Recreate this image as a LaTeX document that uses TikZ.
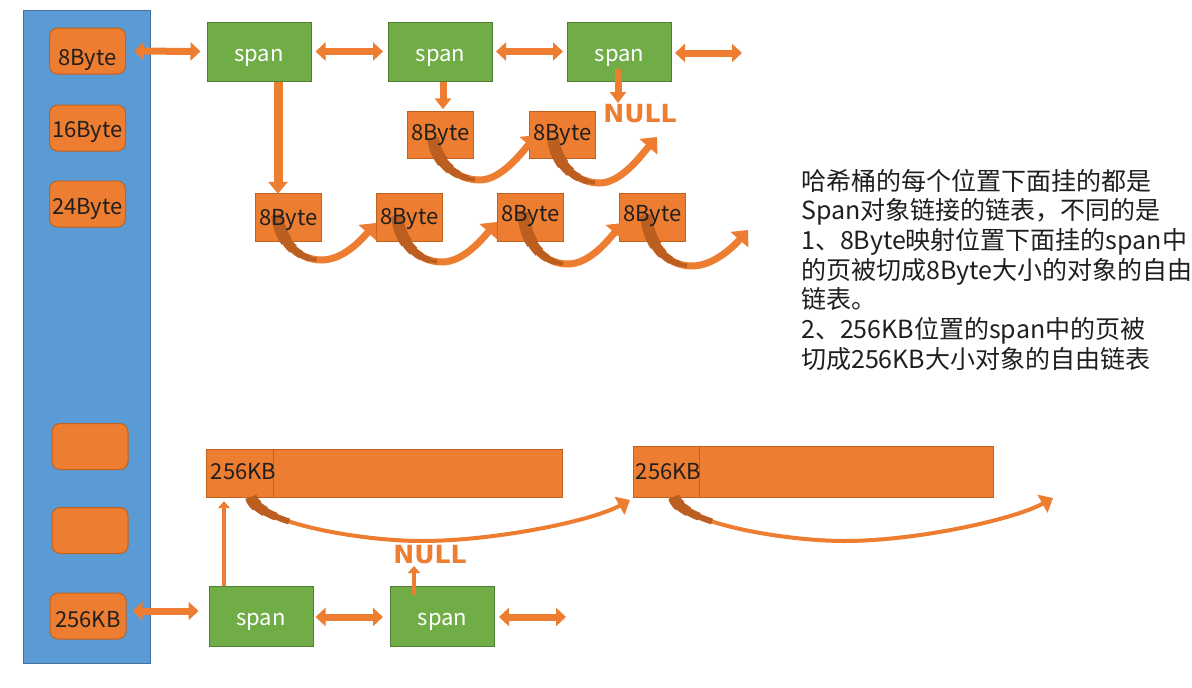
\documentclass[tikz,border=0pt]{standalone}
\usepackage{fontspec}
\newfontfamily\cjk{Noto Sans CJK SC}
\newfontfamily\nullfam{DejaVu Sans}
\usetikzlibrary{arrows.meta,calc}
\definecolor{OR}{HTML}{ED7D31}
\definecolor{ORd}{HTML}{C0621F}
\definecolor{ORk}{HTML}{BC5E1F}
\definecolor{GR}{HTML}{70AD47}
\definecolor{GRd}{HTML}{507E32}
\definecolor{BL}{HTML}{5B9BD5}
\definecolor{BLd}{HTML}{41719C}
\definecolor{TX}{HTML}{1F1F1F}
\pgfdeclarelayer{bg}\pgfdeclarelayer{mid}\pgfsetlayers{bg,mid,main}
\newcommand\lblfont{\cjk\fontsize{22}{26}\selectfont}
\newcommand\notefont{\cjk\fontsize{25}{30}\selectfont}
\newcommand\nullfnt{\nullfam\bfseries\fontsize{25}{28}\selectfont}
% dark, tapering first part of a curved arrow (uses p0..p3)
\newcommand\darkpart[2]{%
 \coordinate (q0) at ($(p0)!#1!(p1)$);
 \coordinate (q1) at ($(p1)!#1!(p2)$);
 \coordinate (q2) at ($(p2)!#1!(p3)$);
 \coordinate (r0) at ($(q0)!#1!(q1)$);
 \coordinate (r1) at ($(q1)!#1!(q2)$);
 \coordinate (s0) at ($(r0)!#1!(r1)$);
 \draw[draw=ORk,line width=#2,line cap=butt] (p0) .. controls (q0) and (r0) .. (s0);
}
% small curved arrow: sx sy tx ty yb
\newcommand\smallbend[5]{%
 \pgfmathsetmacro\bx{#1+0.45*(#3-#1)}%
 \coordinate (p0) at (#1,#2);
 \coordinate (p1) at ({#1+4},{#5-14});
 \coordinate (p2) at ({\bx-20},#5);
 \coordinate (p3) at (\bx,#5);
 \coordinate (p4) at ({\bx+22},#5);
 \coordinate (p5) at ({#3-14},{#4+16});
 \coordinate (p6) at (#3,#4);
 \draw[bandS] (p0) .. controls (p1) and (p2) .. (p3) .. controls (p4) and (p5) .. (p6);
 \darkpart{0.35}{12}\darkpart{0.5}{10}\darkpart{0.65}{8}\darkpart{0.8}{6}\darkpart{0.92}{4}
}
% long curved arrow: sx sy tx ty yb
\newcommand\longbend[5]{%
 \pgfmathsetmacro\bx{#1+0.45*(#3-#1)}%
 \coordinate (p0) at (#1,#2);
 \coordinate (p1) at ({#1+6},{#5-18});
 \coordinate (p2) at ({\bx-60},#5);
 \coordinate (p3) at (\bx,#5);
 \coordinate (p4) at ({\bx+70},#5);
 \coordinate (p5) at ({#3-40},{#4+22});
 \coordinate (p6) at (#3,#4);
 \draw[bandL] (p0) .. controls (p1) and (p2) .. (p3) .. controls (p4) and (p5) .. (p6);
 \darkpart{0.12}{12}\darkpart{0.2}{10}\darkpart{0.28}{8}\darkpart{0.36}{6}
}
\begin{document}
\begin{tikzpicture}[x=1pt,y=-1pt,
  tb/.style={text height=#1,text depth=0pt},
  hashbar/.style={fill=BL,draw=BLd,line width=1,minimum width=127,minimum height=653,inner sep=0},
  rbox/.style={rounded corners=8,fill=OR,draw=ORd,line width=1,minimum width=76,minimum height=46,inner sep=0,font=\lblfont,text=TX},
  spanbox/.style={fill=GR,draw=GRd,line width=1,minimum width=104,minimum height=59,inner sep=0,font=\lblfont,text=white,tb=20pt},
  obj/.style={minimum width=65,minimum height=47,inner sep=0,font=\lblfont,text=TX},
  cellfill/.style={fill=OR,draw=ORd,line width=0.8},
  txt/.style={inner sep=0,font=\lblfont,text=TX,anchor=base},
  nulltxt/.style={inner sep=0,font=\nullfnt,text=OR},
  note/.style={inner sep=0,font=\notefont,text=TX,anchor=base west},
  dbl/.style={draw=OR,line width=7,{Triangle[length=10pt,width=18pt]}-{Triangle[length=10pt,width=18pt]}},
  downbig/.style={draw=OR,line width=9,-{Triangle[length=12pt,width=19pt]}},
  downsm/.style={draw=OR,line width=7,-{Triangle[length=11pt,width=16pt]}},
  upthin/.style={draw=OR,line width=4,-{Triangle[length=7pt,width=12pt]}},
  bandS/.style={draw=OR,line width=7,line cap=butt,-{Triangle[length=13pt,width=23pt]}},
  bandL/.style={draw=OR,line width=4,line cap=butt,-{Triangle[length=12pt,width=20pt]}}]
\useasboundingbox (0,0) rectangle (1192,688);

% hash table column
\node[hashbar] (hash) at (86.5,336.5) {};
\node[rbox,tb=28pt] (b8) at (87.5,51) {8Byte};
\node[rbox,tb=19.5pt] (b16) at (87.5,128) {16Byte};
\node[rbox,tb=20pt] (b24) at (87.5,204) {24Byte};
\node[rbox] (bl1) at (90,446.5) {};
\node[rbox] (bl2) at (90,530.5) {};
\node[rbox,tb=23pt] (b256) at (88,616) {256KB};

% top spans
\node[spanbox] (span1) at (259,51.5) {span};
\node[spanbox] (span2) at (440.5,51.5) {span};
\node[spanbox] (span3) at (619.5,51.5) {span};
\coordinate (c1) at (742,53);

% object boxes
\node[obj,tb=10pt] (o11) at (440.5,135) {8Byte};
\node[obj,tb=10pt] (o12) at (562.5,135) {8Byte};
\node[obj,tb=15pt] (o21) at (288.5,217.5) {8Byte};
\node[obj,tb=13pt] (o22) at (409.5,217.5) {8Byte};
\node[obj,tb=7pt] (o23) at (530.5,217.5) {8Byte};
\node[obj,tb=7pt] (o24) at (652.5,217.5) {8Byte};

% bottom spans and bars
\node[spanbox,minimum height=60,tb=18pt] (sb1) at (261,616) {span};
\node[spanbox,minimum height=60,tb=18pt] (sb2) at (442.5,616) {span};
\coordinate (c2) at (566,617);
\node[minimum width=355,minimum height=47,inner sep=0] (bar1) at (384.5,473.5) {};
\node[minimum width=359,minimum height=50,inner sep=0] (bar2) at (813.5,472) {};
\node[txt] (kb1) at (243.5,479) {256KB};
\node[txt] (kb2) at (668.5,479) {256KB};

\node[nulltxt] (n1) at (640,114) {NULL};
\node[nulltxt] (n2) at (430,554.5) {NULL};
\coordinate (n1tip) at (618,103);
\coordinate (n2tip) at (414,566);

\begin{pgfonlayer}{bg}
\foreach \n in {o11,o12,o21,o22,o23,o24,bar1,bar2}
  \draw[cellfill] (\n.south west) rectangle (\n.north east);
\draw[ORd,line width=0.8] (273,450) -- (273,497);
\draw[ORd,line width=0.8] (699,447) -- (699,497);
\end{pgfonlayer}

\begin{pgfonlayer}{mid}
\smallbend{433}{138}{537}{135}{180}
\smallbend{553}{138}{657}{137}{183}
\smallbend{277}{215}{376}{223}{260}
\smallbend{397}{216}{497}{222}{262}
\smallbend{523}{213}{623}{223}{264}
\smallbend{646}{215}{748}{230}{266}
\longbend{251}{497}{630}{500}{541}
\longbend{674}{497}{1053}{498}{541}
\end{pgfonlayer}

% horizontal links
\draw[dbl,shorten <=8pt,shorten >=6pt] (b8.east) -- (span1.west);
\draw[dbl,shorten <=4pt,shorten >=5pt] (span1.east) -- (span2.west);
\draw[dbl,shorten <=3pt,shorten >=4pt] (span2.east) -- (span3.west);
\draw[dbl,shorten <=3pt] ([yshift=-1.5pt]span3.east) -- (c1);
\draw[dbl,shorten <=6pt,shorten >=10pt] ([yshift=5pt]b256.east) -- ([yshift=5pt]sb1.west);
\draw[dbl,shorten <=2pt,shorten >=7pt] ([yshift=-1pt]sb1.east) -- ([yshift=-1pt]sb2.west);
\draw[dbl,shorten <=4pt] ([yshift=-1pt]sb2.east) -- (c2);

% vertical links
\draw[downbig] ([xshift=19pt]span1.south) -- ([xshift=-10.5pt]o21.north);
\draw[downsm,shorten >=2pt] ([xshift=2.5pt]span2.south) -- ([xshift=2.5pt]o11.north);
\draw[downsm] ([xshift=-1.5pt,yshift=13pt]span3.south) -- (n1tip);
\draw[upthin,shorten >=4pt] ([xshift=-37pt]sb1.north) -- ([xshift=-160.5pt]bar1.south);
\draw[upthin] ([xshift=-28.5pt,yshift=-9pt]sb2.north) -- (n2tip);

% note
\node[note] (t1) at (801,190) {哈希桶的每个位置下面挂的都是};
\node[note] (t2) at (801,219.7) {Span对象链接的链表，不同的是};
\node[note] (t3) at (801,249.4) {1、8Byte映射位置下面挂的span中};
\node[note] (t4) at (801,279) {的页被切成8Byte大小的对象的自由};
\node[note] (t5) at (801,308.8) {链表。};
\node[note] (t6) at (801,338.5) {2、256KB位置的span中的页被};
\node[note] (t7) at (801,368.2) {切成256KB大小对象的自由链表};
\end{tikzpicture}
\end{document}
